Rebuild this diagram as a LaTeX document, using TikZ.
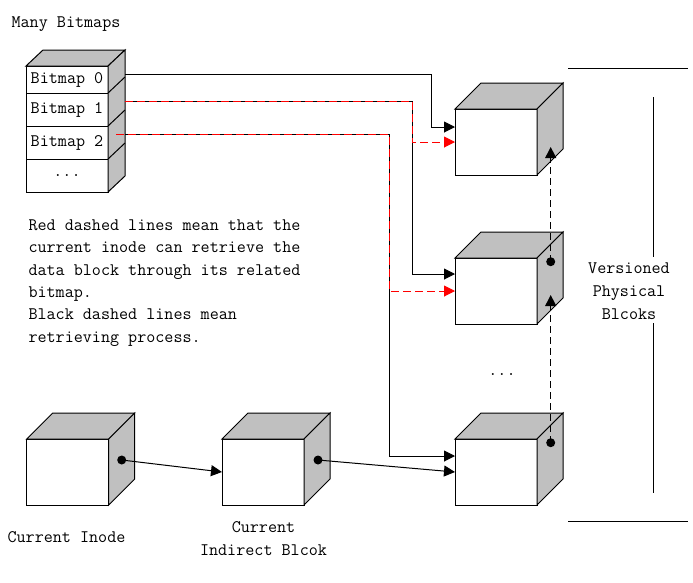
\documentclass[tikz,border=0pt]{standalone}
\usepackage{fontspec}
\usetikzlibrary{arrows.meta,calc}
\definecolor{boxgray}{RGB}{192,192,192}
\newcommand\boxshade[5]{% #1 nw, #2 ne, #3 se, #4 dx, #5 dy
  \filldraw[shadeface] (#1) -- ([shift={(#4,#5)}]#1) -- ([shift={(#4,#5)}]#2) -- (#2) -- cycle;
  \filldraw[shadeface] (#2) -- ([shift={(#4,#5)}]#2) -- ([shift={(#4,#5)}]#3) -- (#3) -- cycle;}
\begin{document}
\begin{tikzpicture}[x=1pt,y=-1pt,line width=1pt,
  face/.style={draw,fill=white,inner sep=0pt,outer sep=0pt,minimum width=82pt,minimum height=66pt},
  bmrow/.style={draw,fill=white,inner sep=0pt,outer sep=0pt,minimum width=82pt,minimum height=33pt,anchor=north,font=\ttfamily\fontsize{17.6}{22}\selectfont},
  shadeface/.style={draw=black,fill=boxgray,line join=miter},
  lbl/.style={font=\ttfamily\fontsize{17.6}{23}\selectfont,inner sep=0pt,align=center},
  arr/.style={-{Triangle[length=11pt,width=11pt]}},
  redarr/.style={red,dash pattern=on 8pt off 4pt,-{Triangle[length=11pt,width=11pt]}},
  blkdash/.style={dash pattern=on 7pt off 4pt,-{Triangle[length=11pt,width=11pt]}},
  dot/.style={fill=black}]
\useasboundingbox (0,0) rectangle (693,582);

% bitmap stack
\node[bmrow,minimum height=27pt,anchor=north west] (bm0) at (26,66) {Bitmap 0};
\node[bmrow] (bm1) at (bm0.south) {Bitmap 1};
\node[bmrow] (bm2) at (bm1.south) {Bitmap 2};
\node[bmrow] (bm3) at (bm2.south) {...};
\boxshade{bm0.north west}{bm0.north east}{bm3.south east}{17}{-16}
\draw (bm0.south east) -- ++(17,-16);
\draw (bm1.south east) -- ++(17,-16);
\draw (bm2.south east) -- ++(17,-16);

% cubes
\node[face,anchor=north west] (inode) at (26.7,439) {};
\node[face,anchor=north west] (indirect) at (222,439) {};
\node[face,anchor=north west] (pb1) at (455,109) {};
\node[face,anchor=north west] (pb2) at (455,258) {};
\node[face,anchor=north west] (pb3) at (455,439) {};
\foreach \c in {inode,indirect,pb1,pb2,pb3}{
  \boxshade{\c.north west}{\c.north east}{\c.south east}{26}{-26}
}

% labels
\node[lbl] (title) at (66,24) {Many Bitmaps};
\node[lbl] (inodelbl) at (66.5,537) {Current Inode};
\node[lbl] (indlbl) at (263.5,538.5) {Current\\Indirect Blcok};
\node[lbl] (vplbl) at (629,291) {Versioned\\Physical\\Blcoks};
\node[lbl] (vdots) at (502,374) {...};
\node[lbl,align=left,anchor=north west,font=\ttfamily\fontsize{17.6}{22.4}\selectfont] (note) at (28,219)
  {Red dashed lines mean that the\\current inode can retrieve the\\data block through its related\\bitmap.\\Black dashed lines mean\\retrieving process.};

% right bracket lines
\draw (568,68) -- (688,68);
\draw (568,521) -- (688,521);
\draw (653,97) -- (653,257);
\draw (653,323) -- (653,493);

% bitmap connectors
\coordinate (s0) at (125,74);
\coordinate (s1) at (125,101);
\coordinate (s2) at (125,134);
\coordinate (s2r) at (116,134);
\draw[arr] (s0) -- (431,74) |- ([yshift=15pt]pb1.west);
\draw[arr] (s1) -- (412,101) |- ([yshift=17pt]pb2.west);
\draw[arr] (s2) -- (389,134) |- ([yshift=16pt]pb3.west);
\draw[redarr] (s1) -- (412,101) |- (pb1.west);
\draw[redarr] (s2r) -- (389,134) |- (pb2.west);

% retrieving process
\coordinate (dA) at (121.7,460);
\coordinate (dB) at (318,460);
\coordinate (d2) at (550.7,261.7);
\coordinate (d3) at (550.7,442.7);
\coordinate (t1) at (550.7,147);
\coordinate (t2) at (550.7,295);
\draw[arr] (dA) -- (indirect.west);
\draw[arr] (dB) -- (pb3.west);
\draw[blkdash] (d3) -- (t2);
\draw[blkdash] (d2) -- (t1);
\foreach \d in {dA,dB,d2,d3}{\fill[dot] (\d) circle (4.5pt);}
\end{tikzpicture}
\end{document}
